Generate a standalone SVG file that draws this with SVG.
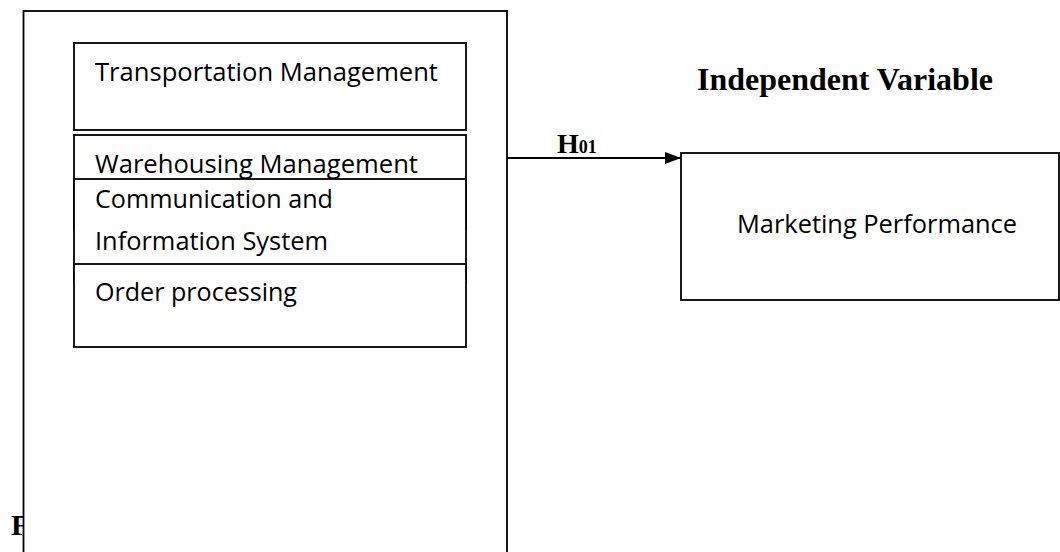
<svg xmlns="http://www.w3.org/2000/svg" width="1060" height="552" viewBox="0 0 1060 552">
<style>
.box{fill:#fff;stroke:#000;stroke-width:1.8}
.lbl{font-family:"Open Sans","Liberation Sans",sans-serif;font-size:25px;fill:#000}
.hd{font-family:"Liberation Serif","Times New Roman",serif;font-weight:bold;fill:#000}
.conn{stroke:#000;stroke-width:2;fill:none}
</style>
<defs>
<marker id="arr" markerWidth="16" markerHeight="12" refX="15" refY="6" orient="auto" markerUnits="userSpaceOnUse">
<path d="M0,0 L16,6 L0,12 Z" fill="#000"/>
</marker>
</defs>
<text class="hd" x="11" y="535" font-size="30">F</text>
<g id="outer">
<rect class="box" x="23.5" y="11" width="483.5" height="560"/>
</g>
<g id="transportation">
<rect class="box" x="74" y="43" width="392" height="87"/>
<text class="lbl" x="95" y="81" textLength="343" lengthAdjust="spacingAndGlyphs">Transportation Management</text>
</g>
<g id="warehousing">
<rect class="box" x="74" y="135" width="392" height="95"/>
<text class="lbl" x="95" y="173" textLength="323" lengthAdjust="spacingAndGlyphs">Warehousing Management</text>
</g>
<g id="communication">
<rect class="box" x="74" y="179" width="392" height="104"/>
<text class="lbl" x="95" y="208" textLength="238" lengthAdjust="spacingAndGlyphs">Communication and</text>
<text class="lbl" x="95" y="250" textLength="233" lengthAdjust="spacingAndGlyphs">Information System</text>
</g>
<g id="order">
<rect class="box" x="74" y="264" width="392" height="83"/>
<text class="lbl" x="95" y="301" textLength="202" lengthAdjust="spacingAndGlyphs">Order processing</text>
</g>
<g id="title">
<text class="hd" x="697" y="90" font-size="31" textLength="296" lengthAdjust="spacingAndGlyphs">Independent Variable</text>
</g>
<g id="marketing">
<rect class="box" x="681" y="153" width="378" height="147"/>
<text class="lbl" x="737" y="233" textLength="280" lengthAdjust="spacingAndGlyphs">Marketing Performance</text>
</g>
<g id="connectors">
<line class="conn" x1="507" y1="158" x2="680" y2="158" marker-end="url(#arr)"/>
<text class="hd" x="557" y="153" font-size="28">H<tspan font-size="18">01</tspan></text>
</g>
</svg>
